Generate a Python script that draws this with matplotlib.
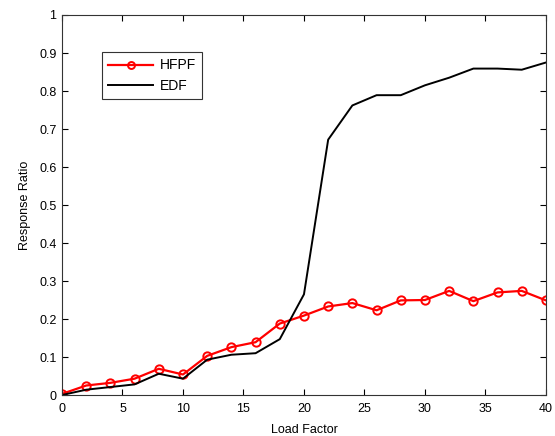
import matplotlib
matplotlib.use("Agg")
import matplotlib.pyplot as plt

# load factor samples
load_factor = [0, 2, 4, 6, 8, 10, 12, 14, 16, 18, 20, 22, 24, 26, 28, 30, 32, 34, 36, 38, 40]

hfpf = [0.003, 0.025, 0.032, 0.043, 0.069, 0.054, 0.103, 0.126, 0.139, 0.188, 0.209,
        0.233, 0.242, 0.223, 0.249, 0.250, 0.274, 0.247, 0.270, 0.274, 0.249]
edf = [0.0, 0.014, 0.021, 0.028, 0.056, 0.043, 0.093, 0.106, 0.110, 0.147, 0.265,
       0.672, 0.762, 0.789, 0.789, 0.815, 0.835, 0.859, 0.859, 0.856, 0.875]

x_ticks = [0, 5, 10, 15, 20, 25, 30, 35, 40]
y_ticks = [0, 0.1, 0.2, 0.3, 0.4, 0.5, 0.6, 0.7, 0.8, 0.9, 1]
y_tick_labels = ["0", "0.1", "0.2", "0.3", "0.4", "0.5", "0.6", "0.7", "0.8", "0.9", "1"]

plt.rcParams["font.family"] = ["Liberation Sans", "DejaVu Sans"]
plt.rcParams["font.size"] = 9

fig = plt.figure(figsize=(5.55, 4.36), dpi=100)
ax = fig.add_axes([0.1117, 0.094, 0.872, 0.8716])

ax.plot(load_factor, hfpf, "-o", color="red", lw=1.6, markersize=6,
        markerfacecolor="none", markeredgewidth=1.4, label="HFPF")
ax.plot(load_factor, edf, "-", color="black", lw=1.4, label="EDF")

ax.set_xlim(0, 40)
ax.set_ylim(0, 1)
ax.set_xticks(x_ticks)
ax.set_yticks(y_ticks)
ax.set_yticklabels(y_tick_labels)
ax.tick_params(direction="in", top=True, right=True, length=4, width=0.8)
ax.tick_params(axis="x", pad=6)
ax.tick_params(axis="y", pad=4)
for s in ax.spines.values():
    s.set_linewidth(0.8)
    s.set_color("#333333")

ax.set_xlabel("Load Factor", labelpad=6)
ax.set_ylabel("Response Ratio", labelpad=6)

leg = ax.legend(loc="upper left", bbox_to_anchor=(0.083, 0.902), borderaxespad=0,
                numpoints=1, fancybox=False, edgecolor="#333333", framealpha=1,
                fontsize=10, handlelength=3.2, handletextpad=0.5,
                borderpad=0.45, labelspacing=0.45)
leg.get_frame().set_linewidth(0.8)
for h in leg.legend_handles:
    if h.get_marker() == "o":
        h.set_markersize(5)

fig.savefig("out.png", dpi=100)
